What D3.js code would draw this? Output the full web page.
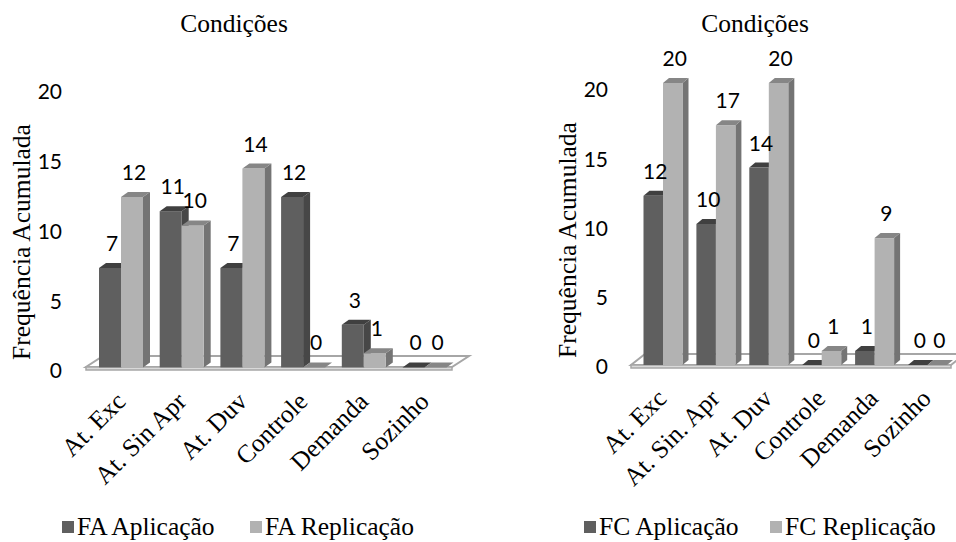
<!DOCTYPE html>
<html>
<head>
<meta charset="utf-8">
<script src="https://cdn.jsdelivr.net/npm/d3@7"></script>
<style>
  html, body { margin: 0; padding: 0; background: #ffffff; }
  svg { display: block; }
</style>
</head>
<body>
<svg id="chart" width="956" height="542"></svg>
<script>
// Categorias e valores (frequência acumulada) de cada gráfico
const categoriasFA = ["At. Exc", "At. Sin Apr", "At. Duv", "Controle", "Demanda", "Sozinho"];
const faAplicacao = [7, 11, 7, 12, 3, 0];
const faReplicacao = [12, 10, 14, 0, 1, 0];

const categoriasFC = ["At. Exc", "At. Sin. Apr", "At. Duv", "Controle", "Demanda", "Sozinho"];
const fcAplicacao = [12, 10, 14, 0, 1, 0];
const fcReplicacao = [20, 17, 20, 1, 9, 0];

const seriesFA = ["FA Aplicação", "FA Replicação"];
const seriesFC = ["FC Aplicação", "FC Replicação"];
const yTicks = [0, 5, 10, 15, 20];
const tituloEixoX = "Condições";
const tituloEixoY = "Frequência Acumulada";

// Tons das faces de cada série: frente, topo, lateral
const tons = [
  { front: "#5f5f5f", top: "#404040", side: "#474747" },
  { front: "#b2b2b2", top: "#868686", side: "#747474" }
];

const serif = "'Liberation Serif', 'Times New Roman', serif";
const sans = "Lato, Carlito, 'Open Sans', sans-serif";
const serifSize = 25.5;
const sansSize = 21;

const svg = d3.select("#chart");

function drawPanel(cfg) {
  const g = svg.append("g");
  const { cats, values, names } = cfg;

  const x0 = d3.scaleBand().domain(cats).range(cfg.xRange).paddingInner(0).paddingOuter(0);
  const y = d3.scaleLinear().domain([0, 20]).range(cfg.yRange);
  const yLabel = d3.scaleLinear().domain([0, 20]).range(cfg.tickRange);
  const bw = cfg.barWidth;
  const x1 = d3.scaleBand().domain(d3.range(names.length)).range([-bw, bw]);
  const dx = cfg.depth[0], dy = cfg.depth[1];

  // Piso em perspectiva
  const f = cfg.floor;
  g.append("path")
    .attr("d", `M${f.x0},${f.y}L${f.x1},${f.y}L${f.x1 + f.dx},${f.y + f.dy}L${f.x0 + f.dx},${f.y + f.dy}Z`)
    .attr("fill", "#ffffff").attr("stroke", "#a6a6a6").attr("stroke-width", 2);
  g.append("path")
    .attr("d", `M${f.x0},${f.y}L${f.x1},${f.y}L${f.x1},${f.y + 3}L${f.x0},${f.y + 3}Z`)
    .attr("fill", "#d9d9d9").attr("stroke", "#a6a6a6").attr("stroke-width", 1.5);

  // Barras 3D
  const rows = [];
  cats.forEach((c, i) => {
    values.forEach((vals, j) => rows.push({ c, j, v: vals[i] }));
  });

  const bars = g.selectAll("g.bar").data(rows).join("g").attr("class", "bar");
  bars.each(function (d) {
    const gb = d3.select(this);
    const xl = x0(d.c) + x0.bandwidth() / 2 + x1(d.j);
    const xr = xl + x1.bandwidth();
    const yt = y(d.v), yb = y(0);
    const t = tons[d.j];
    if (d.v > 0) {
      gb.append("path")
        .attr("d", `M${xr},${yb}L${xr + dx},${yb + dy}L${xr + dx},${yt + dy}L${xr},${yt}Z`)
        .attr("fill", t.side);
      gb.append("rect")
        .attr("x", xl).attr("y", yt).attr("width", xr - xl).attr("height", yb - yt)
        .attr("fill", t.front);
    }
    gb.append("path")
      .attr("d", `M${xl},${yt}L${xr},${yt}L${xr + dx},${yt + dy}L${xl + dx},${yt + dy}Z`)
      .attr("fill", t.top);
  });

  // Rótulos de valor
  g.selectAll("text.val").data(rows).join("text")
    .attr("class", "val")
    .attr("x", d => x0(d.c) + x0.bandwidth() / 2 + x1(d.j) + x1.bandwidth() / 2 + 2)
    .attr("y", d => y(d.v) - 17)
    .attr("text-anchor", "middle")
    .attr("font-family", sans).attr("font-size", sansSize).attr("fill", "#000")
    .text(d => d.v);

  // Eixo Y (apenas rótulos)
  g.selectAll("text.tick").data(yTicks).join("text")
    .attr("class", "tick")
    .attr("x", cfg.tickX).attr("y", d => yLabel(d))
    .attr("dy", "0.35em")
    .attr("text-anchor", "end")
    .attr("font-family", sans).attr("font-size", sansSize).attr("fill", "#000")
    .text(d => d);

  // Rótulos das categorias, inclinados
  g.selectAll("text.cat").data(cats).join("text")
    .attr("class", "cat")
    .attr("transform", d => `translate(${x0(d) + x0.bandwidth() / 2 + cfg.catOffset[0]},${cfg.catOffset[1]}) rotate(-45)`)
    .attr("text-anchor", "end")
    .attr("font-family", serif).attr("font-size", serifSize).attr("fill", "#000")
    .text(d => d);

  // Título superior
  g.append("text")
    .attr("x", cfg.titlePos[0]).attr("y", cfg.titlePos[1])
    .attr("text-anchor", "middle")
    .attr("font-family", serif).attr("font-size", serifSize).attr("fill", "#000")
    .text(tituloEixoX);

  // Título do eixo Y
  g.append("text")
    .attr("transform", `translate(${cfg.yTitlePos[0]},${cfg.yTitlePos[1]}) rotate(-90)`)
    .attr("text-anchor", "middle")
    .attr("font-family", serif).attr("font-size", serifSize).attr("fill", "#000")
    .text(tituloEixoY);

  // Legenda
  const leg = g.selectAll("g.leg").data(names).join("g")
    .attr("class", "leg")
    .attr("transform", (d, i) => `translate(${cfg.legendX[i]},${cfg.legendY})`);
  leg.append("rect").attr("x", 0).attr("y", -14).attr("width", 12).attr("height", 12)
    .attr("fill", (d, i) => tons[i].front);
  leg.append("text").attr("x", 15).attr("y", 0)
    .attr("font-family", serif).attr("font-size", serifSize).attr("fill", "#000")
    .text(d => d);
}

drawPanel({
  cats: categoriasFA,
  values: [faAplicacao, faReplicacao],
  names: seriesFA,
  xRange: [90.65, 454.85],
  yRange: [367.4, 83.4],
  tickRange: [371, 92],
  tickX: 62,
  barWidth: 22,
  depth: [7, -5],
  floor: { x0: 86, x1: 452, y: 367, dx: 17, dy: -11 },
  catOffset: [6, 403],
  titlePos: [234, 32],
  yTitlePos: [30, 242],
  legendX: [62, 250],
  legendY: 535
});

drawPanel({
  cats: categoriasFC,
  values: [fcAplicacao, fcReplicacao],
  names: seriesFC,
  xRange: [636.55, 953.95],
  yRange: [365, 83],
  tickRange: [367, 90],
  tickX: 608,
  barWidth: 19.5,
  depth: [6, -5],
  floor: { x0: 631, x1: 951, y: 365, dx: 14, dy: -11 },
  catOffset: [5, 400],
  titlePos: [755, 32],
  yTitlePos: [576, 240],
  legendX: [584, 770],
  legendY: 535
});
</script>
</body>
</html>
